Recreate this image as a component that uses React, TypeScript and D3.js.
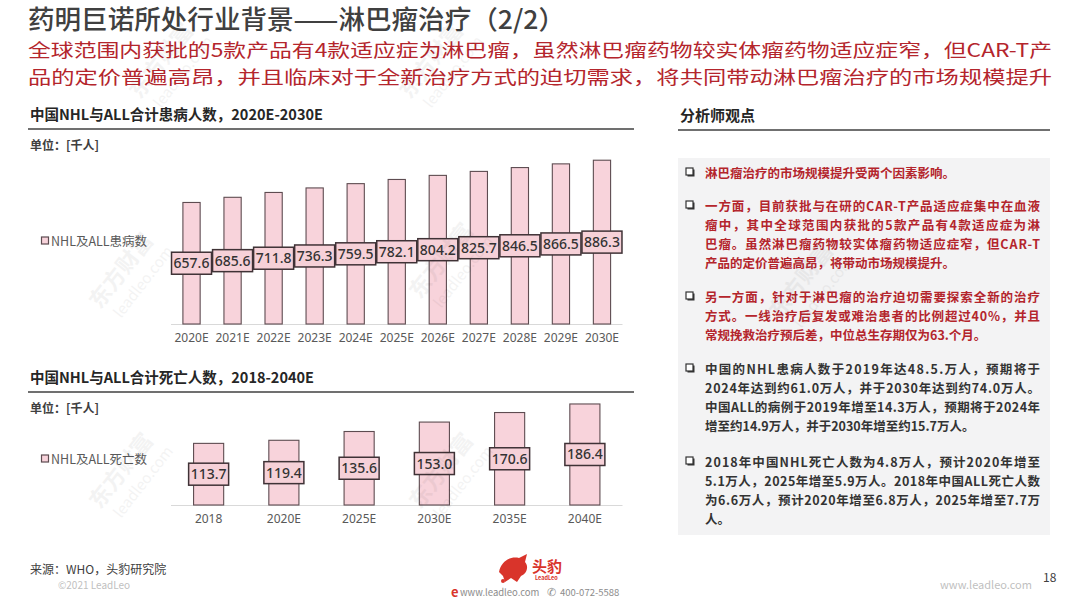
import * as d3 from 'd3';

const incidenceYears = ['2020E', '2021E', '2022E', '2023E', '2024E', '2025E', '2026E', '2027E', '2028E', '2029E', '2030E'];
const incidenceValues = [657.6, 685.6, 711.8, 736.3, 759.5, 782.1, 804.2, 825.7, 846.5, 866.5, 886.3];

const deathYears = ['2018', '2020E', '2025E', '2030E', '2035E', '2040E'];
const deathValues = [113.7, 119.4, 135.6, 153.0, 170.6, 186.4];

const subtitleLines = [
    '全球范围内获批的5款产品有4款适应症为淋巴瘤，虽然淋巴瘤药物较实体瘤药物适应症窄，但CAR-T产',
    '品的定价普遍高昂，并且临床对于全新治疗方式的迫切需求，将共同带动淋巴瘤治疗的市场规模提升',
];

const notes = [
    { red: true, lines: ['淋巴瘤治疗的市场规模提升受两个因素影响。'] },
    {
        red: true,
        lines: [
            '一方面，目前获批与在研的CAR-T产品适应症集中在血液',
            '瘤中，其中全球范围内获批的5款产品有4款适应症为淋',
            '巴瘤。虽然淋巴瘤药物较实体瘤药物适应症窄，但CAR-T',
            '产品的定价普遍高昂，将带动市场规模提升。',
        ],
    },
    {
        red: true,
        lines: [
            '另一方面，针对于淋巴瘤的治疗迫切需要探索全新的治疗',
            '方式。一线治疗后复发或难治患者的比例超过40%，并且',
            '常规挽救治疗预后差，中位总生存期仅为63.个月。',
        ],
    },
    {
        red: false,
        lines: [
            '中国的NHL患病人数于2019年达48.5.万人，预期将于',
            '2024年达到约61.0万人，并于2030年达到约74.0万人。',
            '中国ALL的病例于2019年增至14.3万人，预期将于2024年',
            '增至约14.9万人，并于2030年增至约15.7万人。',
        ],
    },
    {
        red: false,
        lines: [
            '2018年中国NHL死亡人数为4.8万人，预计2020年增至',
            '5.1万人，2025年增至5.9万人。2018年中国ALL死亡人数',
            '为6.6万人，预计2020年增至6.8万人，2025年增至7.7万',
            '人。',
        ],
    },
];
const noteTops = [173, 206, 297, 369, 462];

const FONT = '"Noto Sans CJK SC", "Noto Sans", sans-serif';
const RED = '#b4252c';
const BAR_FILL = '#f8d3db';
const BAR_STROKE = '#5e4c51';

interface PanelProps {
    top: number;
    title: string;
    legend: string;
    legendY: number;
    years: string[];
    values: number[];
    baseline: number;
    yMax: number;
    pxPerUnit: number;
    padding: number;
}

function BarPanel({ top, title, legend, legendY, years, values, baseline, yMax, pxPerUnit, padding }: PanelProps) {
    const x = d3.scaleBand<string>().domain(years).range([171, 622.5]).paddingInner(padding).paddingOuter(padding / 2);
    const y = d3.scaleLinear().domain([0, yMax]).range([baseline, baseline - yMax * pxPerUnit]);
    const bw = x.bandwidth();

    return (
        <g>
            <text x={30} y={top} fontSize={14.5} fontWeight={700} fill="#262626">{title}</text>
            <line x1={28} x2={634} y1={top + 9} y2={top + 9} stroke="#404040" strokeWidth={1.5} />
            <text x={30} y={top + 30} fontSize={12} fontWeight={700} fill="#404040">单位：[千人]</text>

            <g transform={`translate(41, ${legendY})`}>
                <rect x={0.5} y={-4} width={7} height={7} fill={BAR_FILL} stroke={BAR_STROKE} strokeWidth={1.2} />
                <text x={10} y={4.5} fontSize={12.5} fill="#595959">{legend}</text>
            </g>

            <line x1={171} x2={622.5} y1={baseline + 0.5} y2={baseline + 0.5} stroke="#d9d9d9" strokeWidth={1.2} />

            {years.map((yr, i) => {
                const v = values[i];
                const bx = x(yr) as number;
                const ty = y(v);
                const mid = (ty + baseline) / 2;
                const cx = bx + bw / 2;
                return (
                    <g key={yr}>
                        <rect x={bx} y={ty} width={bw} height={baseline - ty} fill={BAR_FILL} stroke={BAR_STROKE} strokeWidth={1.1} />
                        <rect x={cx - 20} y={mid - 11} width={40} height={22} fill="#f6d1d8" stroke="#3f3236" strokeWidth={1.5} />
                        <text x={cx} y={mid + 5} textAnchor="middle" fontSize={14} fontWeight={500} fill="#333" fontFamily='"Noto Sans", sans-serif'>
                            {v.toFixed(1)}
                        </text>
                        <text x={cx} y={baseline + 18} textAnchor="middle" fontSize={12} fill="#595959" fontFamily='"Noto Sans", sans-serif'>
                            {yr}
                        </text>
                    </g>
                );
            })}
        </g>
    );
}

function CheckBox({ x, y }: { x: number; y: number }) {
    return (
        <g>
            <rect x={x + 1.5} y={y + 1.5} width={7} height={7} fill="#333" />
            <rect x={x} y={y} width={7} height={7} fill="#fff" stroke="#333" strokeWidth={1.2} />
        </g>
    );
}

function Watermark({ x, y }: { x: number; y: number }) {
    return (
        <g transform={`translate(${x},${y}) rotate(-52)`} opacity={0.045} fill="#000">
            <text x={0} y={0} fontSize={22} fontWeight={700}>东方财富</text>
            <text x={6} y={22} fontSize={15}>leadleo.com</text>
        </g>
    );
}

export default function App() {
    return (
        <svg
            width={1080}
            height={608}
            viewBox="0 0 1080 608"
            style={{ position: 'absolute', left: 0, top: 0, background: '#fff' }}
            fontFamily={FONT}
        >
            <rect width={1080} height={608} fill="#fff" />

            {/* Header */}
            <text x={28} y={29} fontSize={26} fontWeight={500} fill="#404040" textLength={537} lengthAdjust="spacingAndGlyphs">
                药明巨诺所处行业背景——淋巴瘤治疗（2/2）
            </text>
            {subtitleLines.map((l, i) => (
                <text key={i} x={28} y={57 + i * 27} fontSize={18.5} fill={RED} textLength={1024} lengthAdjust="spacingAndGlyphs">
                    {l}
                </text>
            ))}

            <BarPanel
                top={120}
                title="中国NHL与ALL合计患病人数，2020E-2030E"
                legend="NHL及ALL患病数"
                legendY={241}
                years={incidenceYears}
                values={incidenceValues}
                baseline={324}
                yMax={1000}
                pxPerUnit={0.1848}
                padding={0.58}
            />
            <BarPanel
                top={383}
                title="中国NHL与ALL合计死亡人数，2018-2040E"
                legend="NHL及ALL死亡数"
                legendY={459}
                years={deathYears}
                values={deathValues}
                baseline={505}
                yMax={200}
                pxPerUnit={0.542}
                padding={0.6}
            />

            {/* Analyst panel */}
            <text x={680} y={121} fontSize={15} fontWeight={700} fill="#262626">分析师观点</text>
            <line x1={678} x2={1050} y1={130} y2={130} stroke="#404040" strokeWidth={1.5} />
            <rect x={678} y={158} width={372} height={377} fill="#f3f3f4" />
            {notes.map((n, i) => (
                <g key={i}>
                    <CheckBox x={686} y={noteTops[i] - 5} />
                    {n.lines.map((l, j) => {
                        const last = j === n.lines.length - 1;
                        return (
                            <text
                                key={j}
                                x={705}
                                y={noteTops[i] + 4.5 + j * 19}
                                fontSize={12.5}
                                fontWeight={700}
                                fill={n.red ? RED : '#333'}
                                textLength={last ? undefined : 335}
                                lengthAdjust="spacing"
                            >
                                {l}
                            </text>
                        );
                    })}
                </g>
            ))}

            {/* Watermarks */}
            <Watermark x={100} y={310} />
            <Watermark x={420} y={300} />
            <Watermark x={420} y={510} />
            <Watermark x={100} y={510} />
            <Watermark x={780} y={320} />
            <Watermark x={140} y={100} />
            <Watermark x={410} y={100} />

            {/* Footer */}
            <text x={30} y={574} fontSize={12} fill="#404040">来源：WHO，头豹研究院</text>
            <text x={58} y={589} fontSize={10} fill="#bfbfbf">©2021 LeadLeo</text>

            <g transform="translate(497,554)" fill="#d9342b">
                <path d="M2,18 C4,8 12,2 22,4 L30,0 L28,8 C32,12 30,20 24,22 L20,28 L14,24 L8,28 L6,22 Z" />
                <circle cx={6} cy={27} r={2} />
            </g>
            <text x={532} y={572} fontSize={15} fontWeight={700} fill="#d9342b">头豹</text>
            <text x={535} y={580} fontSize={5.5} fontWeight={700} fill="#d9342b">LeadLeo</text>
            <text x={451} y={597} fontSize={13} fontWeight={700} fill="#d9342b">e</text>
            <text x={460} y={596} fontSize={9.5} fill="#8c8c8c">www.leadleo.com</text>
            <text x={547} y={596} fontSize={11} fill="#8c8c8c">✆</text>
            <text x={560} y={596} fontSize={9.5} fill="#8c8c8c">400-072-5588</text>

            <text x={940} y={589} fontSize={11} fill="#bfbfbf">www.leadleo.com</text>
            <text x={1043} y={582} fontSize={12} fill="#404040">18</text>
        </svg>
    );
}
